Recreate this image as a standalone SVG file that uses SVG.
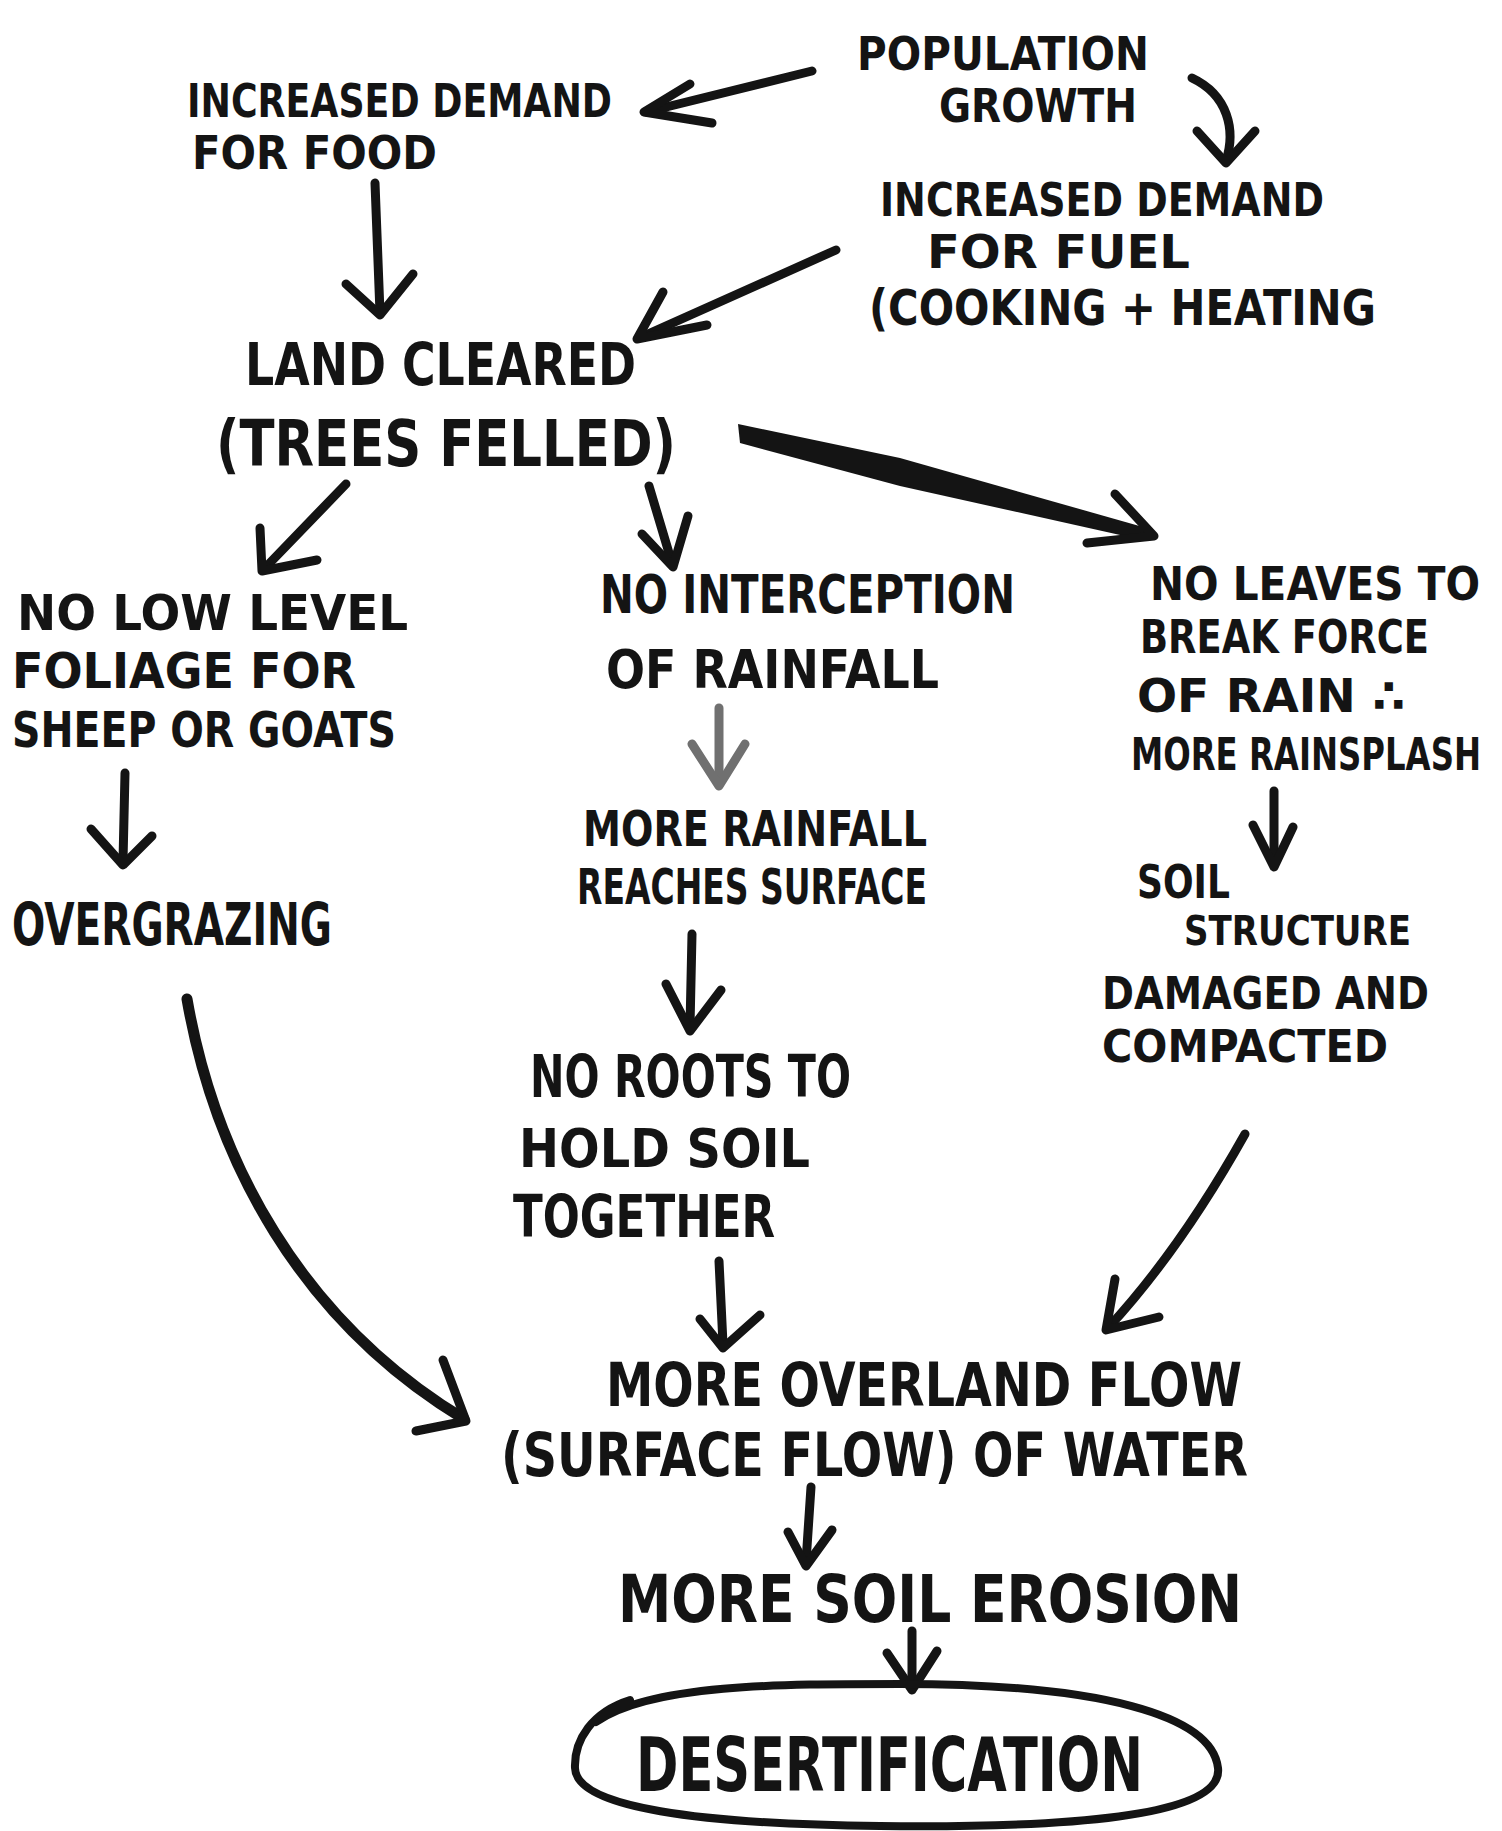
<svg xmlns="http://www.w3.org/2000/svg" width="1502" height="1831" viewBox="0 0 1502 1831">
<style>
.t{font-family:"DejaVu Sans","Liberation Sans",sans-serif;font-weight:bold;fill:#141414;}
.e{text-anchor:end;}
.c{fill:none;stroke:#141414;stroke-width:9;stroke-linecap:round;stroke-linejoin:round;}
.h{fill:none;stroke:#141414;stroke-width:9;stroke-linecap:round;stroke-linejoin:round;}
.g{stroke:#707070;}
</style>
<rect width="1502" height="1831" fill="#ffffff"/>
<g id="connectors">
  <path class="c" d="M812,71 L646,112"/><path class="h" d="M690,84 L644,112 L712,123"/>
  <path class="c" d="M1192,78 C1228,95 1236,130 1226,161"/><path class="h" d="M1197,131 L1226,163 L1255,131"/>
  <path class="c" d="M375,183 L380,313"/><path class="h" d="M346,284 L380,315 L413,274"/>
  <path class="c" d="M836,250 L639,338"/><path class="h" d="M663,292 L637,339 L707,325"/>
  <path class="c" d="M346,484 L264,569"/><path class="h" d="M260,528 L262,571 L317,560"/>
  <path class="c" d="M649,486 L672,563"/><path class="h" d="M642,534 L673,567 L688,516"/>
  <path fill="#141414" d="M738,424 L900,458 L1150,529 L1147,541 L900,486 L740,443 Z"/><path class="h" d="M1115,494 L1154,536 L1087,543"/>
  <path class="c" d="M125,773 L123,861"/><path class="h" d="M91,829 L123,865 L152,836"/>
  <path class="c g" d="M719,708 L719,782"/><path class="h g" d="M692,744 L719,786 L745,744"/>
  <path class="c" d="M692,934 L690,1027"/><path class="h" d="M666,984 L690,1031 L721,990"/>
  <path class="c" d="M1274,791 L1274,863"/><path class="h" d="M1253,825 L1274,867 L1293,827"/>
  <path class="c" style="stroke-width:11" d="M187,999 C215,1160 300,1320 464,1419"/><path class="h" d="M443,1360 L466,1421 L416,1431"/>
  <path class="c" d="M1245,1134 Q1180,1250 1108,1328"/><path class="h" d="M1115,1279 L1106,1330 L1159,1317"/>
  <path class="c" d="M719,1261 L723,1344"/><path class="h" d="M700,1319 L723,1348 L760,1315"/>
  <path class="c" d="M811,1487 L806,1562"/><path class="h" d="M788,1532 L806,1566 L832,1530"/>
  <path class="c" d="M912,1631 L912,1686"/><path class="h" d="M887,1653 L912,1690 L937,1651"/>
</g>
<g id="population-growth">
  <text class="t" x="857" y="70" font-size="46" textLength="292" lengthAdjust="spacingAndGlyphs">POPULATION</text>
  <text class="t" x="939" y="122" font-size="46" textLength="198" lengthAdjust="spacingAndGlyphs">GROWTH</text>
</g>
<g id="demand-food">
  <text class="t" x="187" y="117" font-size="46" textLength="425" lengthAdjust="spacingAndGlyphs">INCREASED DEMAND</text>
  <text class="t" x="192" y="169" font-size="46" textLength="245" lengthAdjust="spacingAndGlyphs">FOR FOOD</text>
</g>
<g id="demand-fuel">
  <text class="t" x="880" y="216" font-size="46" textLength="444" lengthAdjust="spacingAndGlyphs">INCREASED DEMAND</text>
  <text class="t" x="927" y="268" font-size="46" textLength="263" lengthAdjust="spacingAndGlyphs">FOR FUEL</text>
  <text class="t e" x="1376" y="325" font-size="50" textLength="507" lengthAdjust="spacingAndGlyphs">(COOKING + HEATING</text>
</g>
<g id="land-cleared">
  <text class="t" x="245" y="385" font-size="58" textLength="391" lengthAdjust="spacingAndGlyphs">LAND CLEARED</text>
  <text class="t" x="216" y="466" font-size="64" textLength="460" lengthAdjust="spacingAndGlyphs">(TREES FELLED)</text>
</g>
<g id="no-low-level">
  <text class="t" x="17" y="630" font-size="50" textLength="391" lengthAdjust="spacingAndGlyphs">NO LOW LEVEL</text>
  <text class="t" x="12" y="688" font-size="50" textLength="344" lengthAdjust="spacingAndGlyphs">FOLIAGE FOR</text>
  <text class="t" x="12" y="747" font-size="50" textLength="384" lengthAdjust="spacingAndGlyphs">SHEEP OR GOATS</text>
</g>
<g id="overgrazing">
  <text class="t" x="12" y="945" font-size="58" textLength="320" lengthAdjust="spacingAndGlyphs">OVERGRAZING</text>
</g>
<g id="no-interception">
  <text class="t" x="600" y="613" font-size="54" textLength="415" lengthAdjust="spacingAndGlyphs">NO INTERCEPTION</text>
  <text class="t" x="606" y="688" font-size="54" textLength="333" lengthAdjust="spacingAndGlyphs">OF RAINFALL</text>
</g>
<g id="more-rainfall">
  <text class="t" x="583" y="846" font-size="50" textLength="344" lengthAdjust="spacingAndGlyphs">MORE RAINFALL</text>
  <text class="t" x="577" y="904" font-size="50" textLength="350" lengthAdjust="spacingAndGlyphs">REACHES SURFACE</text>
</g>
<g id="no-roots">
  <text class="t" x="530" y="1097" font-size="58" textLength="321" lengthAdjust="spacingAndGlyphs">NO ROOTS TO</text>
  <text class="t" x="519" y="1167" font-size="54" textLength="291" lengthAdjust="spacingAndGlyphs">HOLD SOIL</text>
  <text class="t" x="513" y="1237" font-size="58" textLength="262" lengthAdjust="spacingAndGlyphs">TOGETHER</text>
</g>
<g id="no-leaves">
  <text class="t e" x="1480" y="600" font-size="46" textLength="330" lengthAdjust="spacingAndGlyphs">NO LEAVES TO</text>
  <text class="t e" x="1429" y="653" font-size="46" textLength="289" lengthAdjust="spacingAndGlyphs">BREAK FORCE</text>
  <text class="t e" x="1405" y="712" font-size="46" textLength="268" lengthAdjust="spacingAndGlyphs">OF RAIN ∴</text>
  <text class="t e" x="1481" y="770" font-size="44" textLength="350" lengthAdjust="spacingAndGlyphs">MORE RAINSPLASH</text>
</g>
<g id="soil-structure">
  <text class="t" x="1137" y="898" font-size="46" textLength="93" lengthAdjust="spacingAndGlyphs">SOIL</text>
  <text class="t e" x="1411" y="945" font-size="40" textLength="227" lengthAdjust="spacingAndGlyphs">STRUCTURE</text>
  <text class="t e" x="1429" y="1009" font-size="45" textLength="327" lengthAdjust="spacingAndGlyphs">DAMAGED AND</text>
  <text class="t" x="1102" y="1062" font-size="45" textLength="286" lengthAdjust="spacingAndGlyphs">COMPACTED</text>
</g>
<g id="overland-flow">
  <text class="t" x="606" y="1406" font-size="60" textLength="636" lengthAdjust="spacingAndGlyphs">MORE OVERLAND FLOW</text>
  <text class="t" x="501" y="1476" font-size="60" textLength="747" lengthAdjust="spacingAndGlyphs">(SURFACE FLOW) OF WATER</text>
</g>
<g id="soil-erosion">
  <text class="t" x="618" y="1622" font-size="66" textLength="624" lengthAdjust="spacingAndGlyphs">MORE SOIL EROSION</text>
</g>
<g id="desertification">
  <path class="c" style="stroke-width:8" d="M596,1722 C650,1684 780,1684 900,1684 C1100,1684 1212,1715 1218,1768 C1224,1818 1060,1828 880,1826 C700,1824 576,1808 575,1768 C574,1740 592,1712 630,1700"/>
  <text class="t" x="636" y="1791" font-size="74" textLength="507" lengthAdjust="spacingAndGlyphs">DESERTIFICATION</text>
</g>
</svg>
